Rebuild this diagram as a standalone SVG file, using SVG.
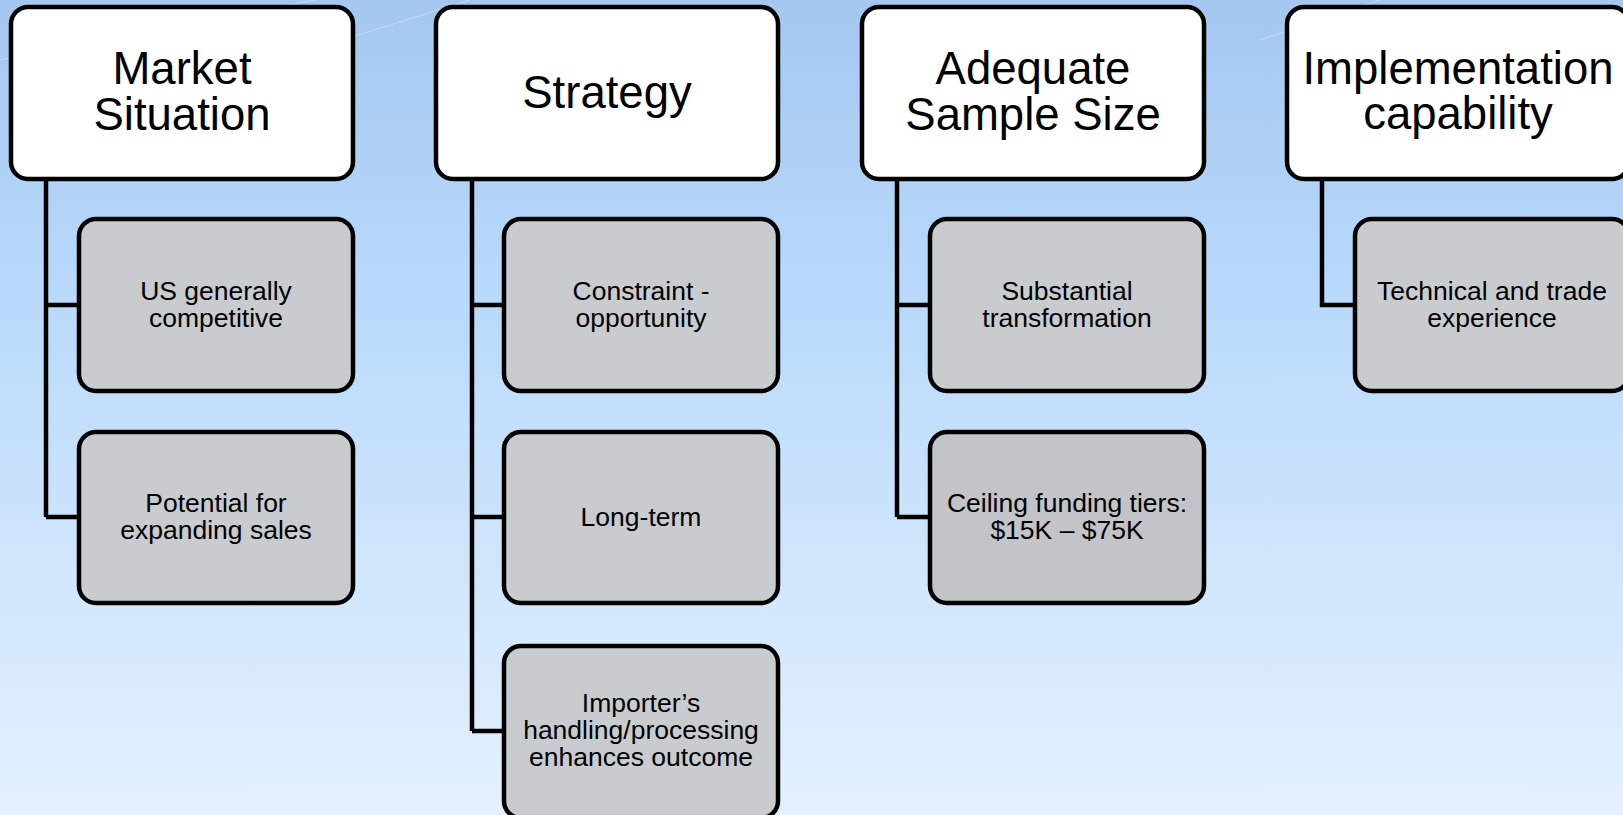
<svg xmlns="http://www.w3.org/2000/svg" width="1623" height="815" viewBox="0 0 1623 815">
<defs>
<linearGradient id="bg" x1="0" y1="0" x2="0" y2="1">
<stop offset="0" stop-color="#a4c7ef"/>
<stop offset="0.35" stop-color="#b8d9fb"/>
<stop offset="1" stop-color="#e4f1fd"/>
</linearGradient>
<style>
.hdr{fill:#ffffff;stroke:#000;stroke-width:4.5}
.sub{fill:#c9cccf;stroke:#000;stroke-width:4.5}
.sub2{fill:#c2c4c7;stroke:#000;stroke-width:4.5}
.h{font-family:"Liberation Sans",Arial,sans-serif;font-size:45.5px;fill:#000;text-anchor:middle}
.t{font-family:"Liberation Sans",Arial,sans-serif;font-size:26.5px;fill:#000;text-anchor:middle}
.c{fill:none;stroke:#000;stroke-width:4.5}
</style>
</defs>
<rect x="0" y="0" width="1623" height="815" fill="url(#bg)"/>
<g opacity="0.3" stroke="#ffffff" stroke-width="1" fill="none">
<path d="M0 60 L420 -20"/>
<path d="M355 36 L470 0"/>
<path d="M1260 40 L1380 0"/>
<path d="M1560 60 L1623 40"/>
</g>
<g id="connectors">
<path class="c" d="M46 179 V517 M46 305 H79 M46 517 H79"/>
<path class="c" d="M472 179 V731 M472 305 H504 M472 517 H504 M472 731 H504"/>
<path class="c" d="M897 179 V517 M897 305 H930 M897 517 H930"/>
<path class="c" d="M1322 179 V305 H1355"/>
</g>
<g id="market">
<rect class="hdr" x="11" y="7" width="342" height="172" rx="17"/>
<text class="h" x="182" y="84">Market</text>
<text class="h" x="182" y="130">Situation</text>
</g>
<g id="strategy">
<rect class="hdr" x="436" y="7" width="342" height="172" rx="17"/>
<text class="h" x="607" y="108">Strategy</text>
</g>
<g id="sample">
<rect class="hdr" x="862" y="7" width="342" height="172" rx="17"/>
<text class="h" x="1033" y="84">Adequate</text>
<text class="h" x="1033" y="130">Sample Size</text>
</g>
<g id="implementation">
<rect class="hdr" x="1287" y="7" width="342" height="172" rx="17"/>
<text class="h" x="1458" y="84">Implementation</text>
<text class="h" x="1458" y="129">capability</text>
</g>
<g id="us-competitive">
<rect class="sub" x="79" y="219" width="274" height="172" rx="17"/>
<text class="t" x="216" y="300">US generally</text>
<text class="t" x="216" y="327">competitive</text>
</g>
<g id="potential">
<rect class="sub" x="79" y="432" width="274" height="171" rx="17"/>
<text class="t" x="216" y="512">Potential for</text>
<text class="t" x="216" y="539">expanding sales</text>
</g>
<g id="constraint">
<rect class="sub" x="504" y="219" width="274" height="172" rx="17"/>
<text class="t" x="641" y="300">Constraint -</text>
<text class="t" x="641" y="327">opportunity</text>
</g>
<g id="long-term">
<rect class="sub" x="504" y="432" width="274" height="171" rx="17"/>
<text class="t" x="641" y="526">Long-term</text>
</g>
<g id="importer">
<rect class="sub" x="504" y="646" width="274" height="172" rx="17"/>
<text class="t" x="641" y="712">Importer’s</text>
<text class="t" x="641" y="739">handling/processing</text>
<text class="t" x="641" y="766">enhances outcome</text>
</g>
<g id="substantial">
<rect class="sub" x="930" y="219" width="274" height="172" rx="17"/>
<text class="t" x="1067" y="300">Substantial</text>
<text class="t" x="1067" y="327">transformation</text>
</g>
<g id="ceiling">
<rect class="sub2" x="930" y="432" width="274" height="171" rx="17"/>
<text class="t" x="1067" y="512">Ceiling funding tiers:</text>
<text class="t" x="1067" y="539">$15K – $75K</text>
</g>
<g id="technical">
<rect class="sub" x="1355" y="219" width="274" height="172" rx="17"/>
<text class="t" x="1492" y="300">Technical and trade</text>
<text class="t" x="1492" y="327">experience</text>
</g>
</svg>
